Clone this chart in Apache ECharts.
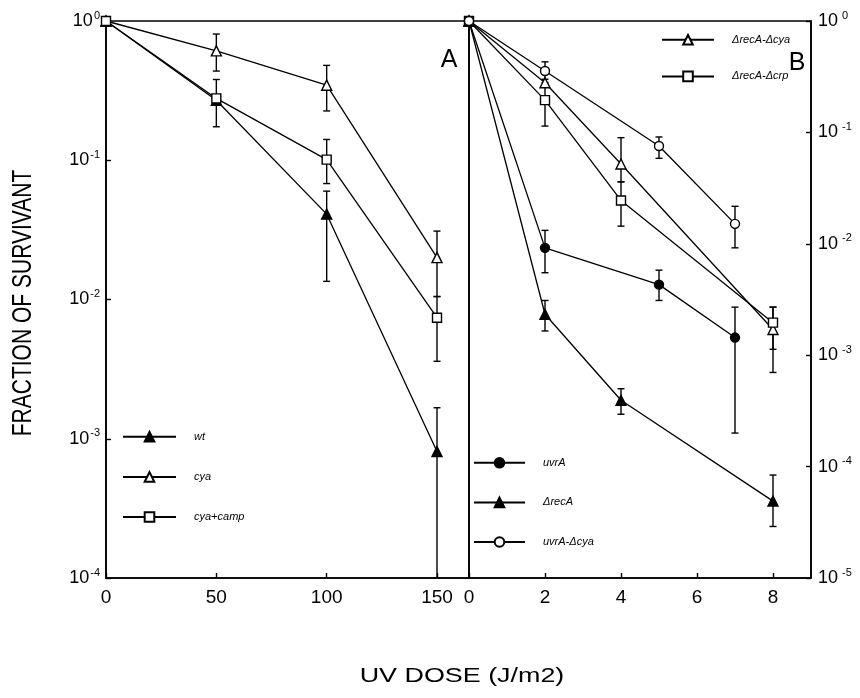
<!DOCTYPE html>
<html>
<head>
<meta charset="utf-8">
<script src="https://cdn.jsdelivr.net/npm/echarts@6/dist/echarts.min.js"></script>
<style>
  html, body { margin: 0; padding: 0; background: #fff; }
  #main { width: 860px; height: 698px; }
</style>
</head>
<body>
<div id="main"></div>
<script>
// panel A: dose 0..150
var doseA = [0, 50, 100, 150];
var wt = [1, 0.27, 0.041, 0.00081];
var wtLo = [null, null, 0.0135, 0.0001];
var wtHi = [null, null, 0.06, 0.00167];
var cya = [1, 0.61, 0.346, 0.020];
var cyaLo = [null, 0.437, 0.226, 0.0105];
var cyaHi = [null, 0.806, 0.48, 0.031];
var cyaCamp = [1, 0.278, 0.101, 0.0074];
var cyaCampLo = [null, 0.174, 0.068, 0.0036];
var cyaCampHi = [null, 0.38, 0.141, 0.0105];

// panel B: dose 0..8
var doseUvr = [0, 2, 5, 7];
var uvrA = [1, 0.0092, 0.0043, 0.00144];
var uvrALo = [null, 0.0055, 0.0031, 0.0002];
var uvrAHi = [null, 0.0132, 0.0058, 0.0027];
var uvrACya = [1, 0.356, 0.0755, 0.0151];
var uvrACyaLo = [null, 0.30, 0.0585, 0.0092];
var uvrACyaHi = [null, 0.43, 0.091, 0.0217];
var doseRec = [0, 2, 4, 8];
var recA = [1, 0.00233, 0.000394, 0.000049];
var recALo = [null, 0.00165, 0.000295, 0.000029];
var recAHi = [null, 0.0031, 0.0005, 0.000084];
var recACya = [1, 0.279, 0.052, 0.0017];
var recACyaLo = [null, null, 0.036, 0.0007];
var recACyaHi = [null, null, 0.0897, 0.0027];
var recACrp = [1, 0.195, 0.0245, 0.00196];
var recACrpLo = [null, 0.114, 0.0144, 0.00113];
var recACrpHi = [null, 0.28, 0.036, 0.0027];

var FONT = '"Liberation Sans", Arial, sans-serif';

function pairs(xs, ys) {
    var out = [];
    for (var i = 0; i < xs.length; i++) out.push([xs[i], ys[i]]);
    return out;
}
function errs(xs, lo, hi) {
    var out = [];
    for (var i = 0; i < xs.length; i++) {
        if (lo[i] != null) out.push([xs[i], lo[i], hi[i]]);
    }
    return out;
}

function errorItem(params, api) {
    var x = api.value(0);
    var lo = api.coord([x, api.value(1)]);
    var hi = api.coord([x, api.value(2)]);
    var w = 3.5;
    var st = { stroke: '#000', lineWidth: 1.4, fill: null };
    return {
        type: 'group',
        children: [
            { type: 'line', shape: { x1: lo[0], y1: lo[1], x2: hi[0], y2: hi[1] }, style: st },
            { type: 'line', shape: { x1: lo[0] - w, y1: lo[1], x2: lo[0] + w, y2: lo[1] }, style: st },
            { type: 'line', shape: { x1: hi[0] - w, y1: hi[1], x2: hi[0] + w, y2: hi[1] }, style: st }
        ]
    };
}

function lineSeries(name, data, gi, symbol, filled) {
    return {
        name: name,
        type: 'line',
        xAxisIndex: gi,
        yAxisIndex: gi,
        data: data,
        symbol: symbol,
        symbolSize: symbol === 'triangle' ? 10 : 9,
        showAllSymbol: true,
        z: 3,
        lineStyle: { color: '#000', width: 1.3 },
        itemStyle: { color: filled ? '#000' : '#fff', borderColor: '#000', borderWidth: 1.4 },
        emphasis: { disabled: true },
        animation: false
    };
}

function errSeries(data, gi) {
    return {
        type: 'custom',
        xAxisIndex: gi,
        yAxisIndex: gi,
        data: data,
        encode: { x: 0, y: [1, 2] },
        renderItem: errorItem,
        z: 2,
        silent: true,
        animation: false
    };
}

function yLabel(v, gap) {
    var e = Math.round(Math.log10(v));
    return '{b|10}{s|' + (gap ? ' ' : '') + (e === 0 ? '0' : (e < 0 ? '-' : '') + Math.abs(e)) + '}';
}

var richLab = {
    b: { fontSize: 18, fontFamily: FONT, color: '#000', lineHeight: 22 },
    s: { fontSize: 11, fontFamily: FONT, color: '#000', verticalAlign: 'top', lineHeight: 12, padding: [0, 0, 0, 1] }
};

var axisLine = { show: true, onZero: false, lineStyle: { color: '#000', width: 1.6 } };
var axisTick = { show: true, inside: true, length: 5, lineStyle: { color: '#000', width: 1.4 } };

var legendText = { fontSize: 11, fontStyle: 'italic', fontFamily: FONT, color: '#000', padding: [0, 0, 0, 13] };

var chart = echarts.init(document.getElementById('main'));
var option = {
    backgroundColor: '#fff',
    animation: false,
    grid: [
        { left: 106, top: 21, width: 363, height: 557, show: true, borderColor: '#000', borderWidth: 1.6, backgroundColor: 'transparent' },
        { left: 469, top: 21, width: 342, height: 557, show: true, borderColor: '#000', borderWidth: 1.6, backgroundColor: 'transparent' }
    ],
    xAxis: [
        {
            type: 'value', gridIndex: 0, min: 0, max: 164.5, interval: 50,
            axisLine: axisLine, axisTick: axisTick, splitLine: { show: false },
            axisLabel: { fontSize: 19, fontFamily: FONT, color: '#000', margin: 10, showMaxLabel: false }
        },
        {
            type: 'value', gridIndex: 1, min: 0, max: 9, interval: 2,
            axisLine: axisLine, axisTick: axisTick, splitLine: { show: false },
            axisLabel: { fontSize: 19, fontFamily: FONT, color: '#000', margin: 10, showMaxLabel: false }
        }
    ],
    yAxis: [
        {
            type: 'log', logBase: 10, gridIndex: 0, min: 0.0001, max: 1,
            axisLine: axisLine, axisTick: axisTick, splitLine: { show: false }, minorTick: { show: false },
            axisLabel: { margin: 6, formatter: function (v) { return yLabel(v, false); }, rich: richLab }
        },
        {
            type: 'log', logBase: 10, gridIndex: 1, min: 0.00001, max: 1, position: 'right',
            axisLine: axisLine, axisTick: axisTick, splitLine: { show: false }, minorTick: { show: false },
            axisLabel: { margin: 7, formatter: function (v) { return yLabel(v, true); }, rich: richLab }
        }
    ],
    legend: [
        {
            orient: 'vertical', left: 122, top: 431, padding: 0, itemWidth: 53, itemHeight: 12, itemGap: 28.5,
            selectedMode: false, textStyle: legendText,
            data: ['wt', 'cya', 'cya+camp']
        },
        {
            orient: 'vertical', left: 661, top: 34, padding: 0, itemWidth: 52, itemHeight: 12, itemGap: 25,
            selectedMode: false, textStyle: legendText,
            data: ['ΔrecA-Δcya', 'ΔrecA-Δcrp']
        },
        {
            orient: 'vertical', left: 473, top: 457, padding: 0, itemWidth: 51, itemHeight: 12, itemGap: 28,
            selectedMode: false, textStyle: legendText,
            data: ['uvrA', 'ΔrecA', 'uvrA-Δcya']
        }
    ],
    graphic: [
        {
            type: 'text', x: 23, y: 303, rotation: Math.PI / 2, scaleY: 1.35,
            style: { text: 'FRACTION OF SURVIVANT', font: '21px ' + FONT, fill: '#000', align: 'center', verticalAlign: 'middle' }
        },
        {
            type: 'text', x: 462, y: 676, scaleX: 1.28,
            style: { text: 'UV DOSE (J/m2)', font: '21px ' + FONT, fill: '#000', align: 'center', verticalAlign: 'middle' }
        },
        {
            type: 'text', x: 449, y: 60,
            style: { text: 'A', font: '25px ' + FONT, fill: '#000', align: 'center', verticalAlign: 'middle' }
        },
        {
            type: 'text', x: 797, y: 63,
            style: { text: 'B', font: '25px ' + FONT, fill: '#000', align: 'center', verticalAlign: 'middle' }
        }
    ],
    series: [
        errSeries(errs(doseA, wtLo, wtHi), 0),
        errSeries(errs(doseA, cyaLo, cyaHi), 0),
        errSeries(errs(doseA, cyaCampLo, cyaCampHi), 0),
        lineSeries('wt', pairs(doseA, wt), 0, 'triangle', true),
        lineSeries('cya', pairs(doseA, cya), 0, 'triangle', false),
        lineSeries('cya+camp', pairs(doseA, cyaCamp), 0, 'rect', false),

        errSeries(errs(doseUvr, uvrALo, uvrAHi), 1),
        errSeries(errs(doseRec, recALo, recAHi), 1),
        errSeries(errs(doseRec, recACyaLo, recACyaHi), 1),
        errSeries(errs(doseRec, recACrpLo, recACrpHi), 1),
        errSeries(errs(doseUvr, uvrACyaLo, uvrACyaHi), 1),
        lineSeries('uvrA', pairs(doseUvr, uvrA), 1, 'circle', true),
        lineSeries('ΔrecA', pairs(doseRec, recA), 1, 'triangle', true),
        lineSeries('ΔrecA-Δcya', pairs(doseRec, recACya), 1, 'triangle', false),
        lineSeries('ΔrecA-Δcrp', pairs(doseRec, recACrp), 1, 'rect', false),
        lineSeries('uvrA-Δcya', pairs(doseUvr, uvrACya), 1, 'circle', false)
    ]
};
chart.setOption(option);
</script>
</body>
</html>
